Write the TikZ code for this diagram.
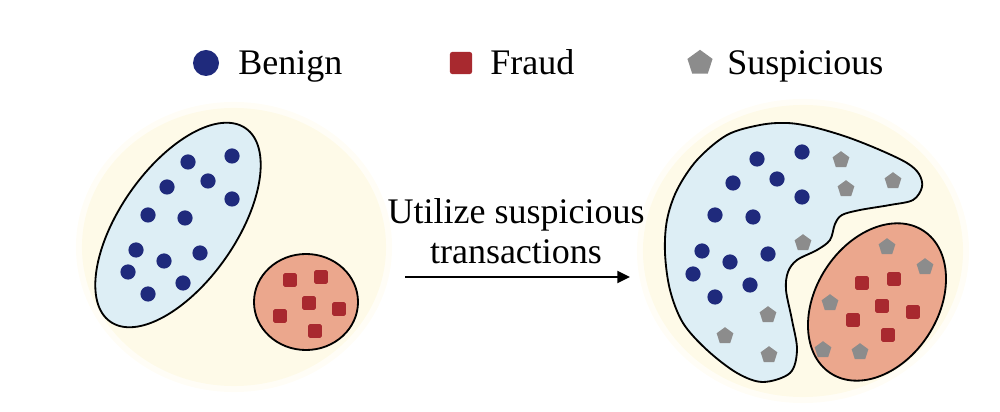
\documentclass[tikz,border=0pt]{standalone}
\usepackage{fontspec}
\setmainfont{Liberation Serif}
\usepackage{tikz}
\usetikzlibrary{shapes,arrows.meta,positioning,shapes.geometric}
\definecolor{bgYellow}{HTML}{FEFAE8}
\definecolor{groupBlue}{HTML}{DDEEF5}
\definecolor{groupRed}{HTML}{EBA78D}
\definecolor{benignBlue}{HTML}{1F2A7C}
\definecolor{fraudRed}{HTML}{A8292F}
\definecolor{suspGray}{HTML}{8C8C8C}
\tikzset{
  %% items
  benign/.style={circle, fill=benignBlue, inner sep=0pt, minimum size=0.38cm},
  fraud/.style={rectangle, fill=fraudRed, rounded corners=1pt, inner sep=0pt, minimum size=0.34cm},
  susp/.style={regular polygon, regular polygon sides=5, fill=suspGray, inner sep=0pt, minimum size=0.44cm},
  %% groups
  bgZone/.style={ellipse, fill=bgYellow, inner sep=0pt},
  groupBenign/.style={draw=black, line width=1.3pt, fill=groupBlue},
  groupFraud/.style={ellipse, draw=black, line width=1.3pt, fill=groupRed, inner sep=0pt},
  %% texts and arrow
  lgtext/.style={font=\fontsize{25.6}{28}\selectfont, anchor=base west, inner sep=0pt},
  flowlbl/.style={font=\fontsize{25.6}{28.5}\selectfont, align=center, inner sep=0pt},
  flowarrow/.style={-{Triangle[length=9pt, width=8.5pt]}, line width=1.4pt},
}

\begin{document}
\begin{tikzpicture}[x=0.025cm, y=0.025cm]
\useasboundingbox (0,0) rectangle (1000,-412);

%% background zones
\node[bgZone, fill opacity=0.4, minimum width=7.9cm, minimum height=7.25cm] (leftHalo) at (234,-247) {};
\node[bgZone, minimum width=7.6cm, minimum height=6.95cm] (leftBg) at (234,-247) {};
\node[bgZone, fill opacity=0.4, minimum width=8.3cm, minimum height=7.6cm] (rightHalo) at (803,-251) {};
\node[bgZone, minimum width=8.0cm, minimum height=7.3cm] (rightBg) at (803,-251) {};

%% legend
\node[benign, minimum width=0.6cm, minimum height=0.65cm] (lgBenign) at (206,-63) {};
\node[lgtext] (lgBenignTxt) at (238,-75) {Benign};
\node[fraud, minimum size=0.56cm, rounded corners=2pt] (lgFraud) at (461,-63) {};
\node[lgtext] (lgFraudTxt) at (490,-75) {Fraud};
\node[susp, minimum size=0.66cm] (lgSusp) at (700,-63) {};
\node[lgtext] (lgSuspTxt) at (727,-75) {Suspicious};

%% before
\node[groupFraud, fill=groupBlue, minimum width=5.9cm, minimum height=2.9cm, rotate=55] (leftBenign) at (178,-225) {};
\node[groupFraud, minimum width=2.6cm, minimum height=2.4cm] (leftFraud) at (306,-302) {};
\foreach \x/\y [count=\i] in {232/156, 188/162, 208/181, 167/187, 232/199, 148/215, 185/218,
                              136/250, 200/253, 164/261, 128/272, 183/283, 148/294}
  \node[benign] (lb\i) at (\x,-\y) {};
\foreach \x/\y [count=\i] in {290/280, 321/277, 309/303, 339/309, 280/316, 315/331}
  \node[fraud] (lf\i) at (\x,-\y) {};

%% arrow
\node[flowlbl] (flowTxt) at (516,-231) {Utilize suspicious\\transactions};
\coordinate (arrS) at (405,-277);
\coordinate (arrE) at (630,-277);
\draw[flowarrow] (arrS) -- (arrE);

%% after
\draw[groupBenign] plot[smooth cycle, tension=0.55] coordinates {
  (665,-253) (667,-220) (677,-190) (697,-160) (727,-135) (760,-125) (787,-123)
  (813,-127) (847,-137) (880,-150) (907,-163) (919,-174) (922,-187) (913,-200)
  (890,-205) (860,-210) (842,-215) (835,-224) (830,-240) (817,-250) (797,-260)
  (788,-272) (786,-290) (792,-320) (797,-350) (790,-373) (763,-382) (737,-373)
  (707,-350) (683,-323) (670,-290)};
\node[groupFraud, minimum width=4.25cm, minimum height=3.05cm, rotate=57] (rightFraud) at (877,-302) {};
\foreach \x/\y [count=\i] in {802/152, 757/159, 777/179, 733/183, 802/197, 715/215, 753/217,
                              702/251, 768/254, 730/262, 693/274, 750/285, 715/297}
  \node[benign] (rb\i) at (\x,-\y) {};
\foreach \x/\y [count=\i] in {862/283, 894/279, 882/306, 913/312, 853/320, 888/335}
  \node[fraud] (rf\i) at (\x,-\y) {};
\foreach \x/\y [count=\i] in {841/160, 893/181, 846/189, 803/243, 768/315, 725/336, 769/355,
                              887/247, 925/267, 830/303, 823/350, 860/352}
  \node[susp] (rs\i) at (\x,-\y) {};
\end{tikzpicture}
\end{document}
